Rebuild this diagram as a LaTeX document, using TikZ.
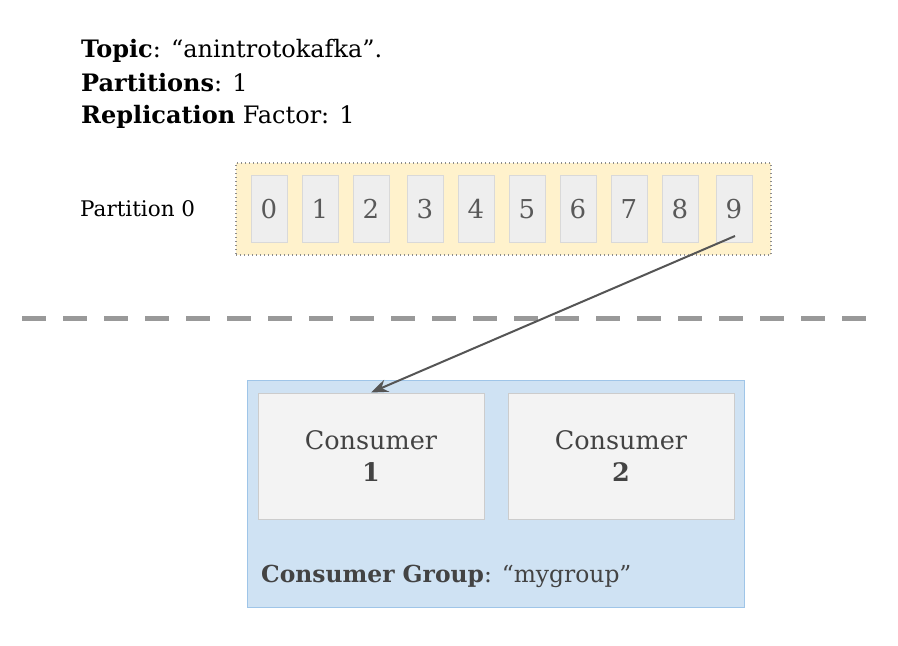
\documentclass[tikz,border=0pt]{standalone}
\usepackage{fontspec}
\setmainfont{DejaVu Serif}
\usetikzlibrary{arrows.meta}
\definecolor{partfill}{HTML}{FFF2CC}
\definecolor{partline}{HTML}{8C8C8C}
\definecolor{cellfill}{HTML}{EEEEEE}
\definecolor{cellline}{HTML}{D9D9D9}
\definecolor{digit}{HTML}{595959}
\definecolor{grpfill}{HTML}{CFE2F3}
\definecolor{grpline}{HTML}{9FC5E8}
\definecolor{consfill}{HTML}{F3F3F3}
\definecolor{consline}{HTML}{CCCCCC}
\definecolor{darktext}{HTML}{434343}
\definecolor{arrowc}{HTML}{555555}
\definecolor{sepc}{HTML}{999999}
\tikzset{
  cellbox/.style={draw=cellline, fill=cellfill, line width=1pt, minimum width=36pt, minimum height=67pt, inner sep=0pt,
    font=\fontsize{26}{30}\selectfont, text=digit},
  consbox/.style={draw=consline, fill=consfill, line width=1pt, minimum width=226pt, minimum height=126pt, inner sep=0pt,
    align=center, font=\fontsize{25.5}{32}\selectfont, text=darktext},
  txt/.style={inner sep=0pt, anchor=base west},
}
\begin{document}
\begin{tikzpicture}[x=1pt,y=-1pt]
\useasboundingbox (0,0) rectangle (898,646);
\fill[white] (0,0) rectangle (898,646);
% header text
\node[txt, font=\fontsize{24}{28}\selectfont] (t1) at (81,57) {\textbf{Topic}: “anintrotokafka”.};
\node[txt, font=\fontsize{24}{28}\selectfont] (t2) at (81,91) {\textbf{Partitions}: 1};
\node[txt, font=\fontsize{24}{28}\selectfont] (t3) at (81,123) {\textbf{Replication} Factor: 1};
% partition
\node[draw=partline, fill=partfill, line width=1.4pt, dash pattern=on 1.4pt off 2.6pt, minimum width=535pt, minimum height=92pt, inner sep=0pt] (part) at (503.5,209) {};
\node[txt, anchor=west, font=\fontsize{21.5}{24}\selectfont] (plabel) at (80,209) {Partition 0};
\foreach \i/\x in {0/269,1/320,2/371,3/425,4/476,5/527,6/578,7/629,8/680,9/734}{
  \node[cellbox] (c\i) at (\x,209) {\i};
}
% separator
\coordinate (sl) at (22,318);
\coordinate (sr) at (872,318);
\draw[sepc, line width=5pt, dash pattern=on 24pt off 17pt] (sl) -- (sr);
% consumer group
\node[draw=grpline, fill=grpfill, line width=1pt, minimum width=497pt, minimum height=227pt, inner sep=0pt] (grp) at (495.5,494) {};
\node[consbox] (cons1) at (371,456) {Consumer\\\textbf{1}};
\node[consbox] (cons2) at (621,456) {Consumer\\\textbf{2}};
\node[txt, font=\fontsize{23.4}{26}\selectfont, text=darktext] (glabel) at (261,582) {\textbf{Consumer Group}: “mygroup”};
% arrow
\coordinate (s) at (735,236);
\draw[arrowc, line width=2pt, -{Stealth[length=17pt,width=13pt]}] (s) -- (cons1.north);
\end{tikzpicture}
\end{document}
